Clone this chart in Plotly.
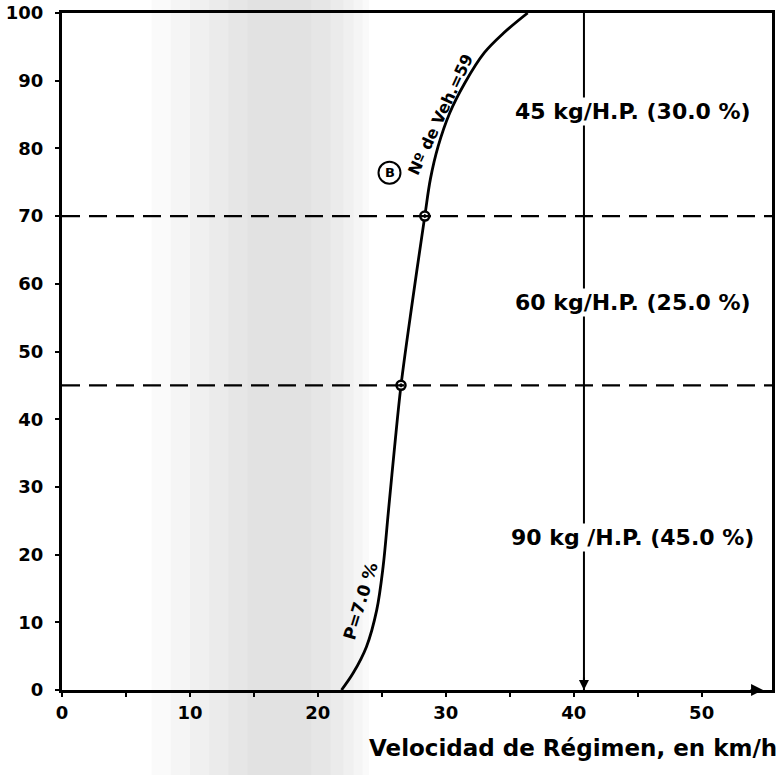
import plotly.graph_objects as go

# ---- data ----
curve_x = [21.85, 22.76, 23.8, 24.6, 25.1, 25.5, 26.0, 26.5, 27.4, 28.36, 28.8, 29.4, 30.3, 31.5, 33.0, 34.5, 36.4]
curve_y = [0, 2.5, 6.4, 11.8, 18.2, 26.1, 35.9, 45, 57.5, 70, 75.5, 80.3, 85.2, 89.7, 94.1, 97, 100]
point_x = [26.5, 28.36]
point_y = [45, 70]
split_levels = [45, 70]
v_line_x = 40.8
x_ticks = [0, 10, 20, 30, 40, 50]
y_ticks = [0, 10, 20, 30, 40, 50, 60, 70, 80, 90, 100]
class_labels = ["45 kg/H.P. (30.0 %)", "60 kg/H.P. (25.0 %)", "90 kg /H.P. (45.0 %)"]
class_label_y = [85.4, 57.3, 22.6]
class_label_x = 44.6

FONT = "DejaVu Sans"
fig = go.Figure()

fig.add_trace(go.Scatter(x=curve_x, y=curve_y, mode="lines",
                         line=dict(color="black", width=2.8, shape="spline", smoothing=1.0),
                         hoverinfo="skip", showlegend=False))
fig.add_trace(go.Scatter(x=point_x, y=point_y, mode="markers",
                         marker=dict(symbol="circle-dot", size=9, color="white",
                                     line=dict(color="black", width=2.5)),
                         showlegend=False))

shapes = []
# stippled background band (soft gray layers for a gradual texture)
for x0, x1, a in [(7.0, 24.0, 0.02), (8.5, 23.5, 0.02), (10.0, 22.8, 0.02),
                  (11.5, 22.0, 0.02), (13.0, 21.0, 0.02), (14.5, 19.5, 0.015)]:
    shapes.append(dict(type="rect", xref="x", yref="paper", x0=x0, x1=x1, y0=-0.16, y1=1.02,
                       fillcolor="rgba(0,0,0,%g)" % a, line=dict(width=0), layer="below"))
for lv in split_levels:
    shapes.append(dict(type="line", xref="paper", yref="y", x0=0, x1=1, y0=lv, y1=lv,
                       line=dict(color="black", width=2.2, dash="18px,9px")))
shapes.append(dict(type="line", xref="x", yref="y", x0=v_line_x, x1=v_line_x, y0=0, y1=100,
                   line=dict(color="black", width=2)))
# circled B marker
shapes.append(dict(type="circle", xref="x", yref="y", xsizemode="pixel", ysizemode="pixel",
                   xanchor=25.6, yanchor=76.4, x0=-11, x1=11, y0=-11, y1=11,
                   line=dict(color="black", width=2)))

annotations = []
for t, yy in zip(class_labels, class_label_y):
    annotations.append(dict(x=class_label_x, y=yy, xref="x", yref="y", text="<b>%s</b>" % t,
                            showarrow=False, font=dict(family=FONT, size=22, color="black"),
                            bgcolor="white"))
annotations.append(dict(x=25.6, y=76.4, xref="x", yref="y", text="<b>B</b>", showarrow=False,
                        font=dict(family=FONT, size=13, color="black")))
annotations.append(dict(x=29.6, y=85.0, xref="x", yref="y", text="<b>Nº de Veh.=59</b>",
                        textangle=-65, showarrow=False,
                        font=dict(family=FONT, size=16, color="black")))
annotations.append(dict(x=23.35, y=13.1, xref="x", yref="y", text="<b>P=7.0 %</b>",
                        textangle=-73, showarrow=False,
                        font=dict(family=FONT, size=17, color="black")))
annotations.append(dict(x=1.01, y=-0.086, xref="paper", yref="paper", xanchor="right",
                        yanchor="middle",
                        text="<b>Velocidad de Régimen, en km/h</b>", showarrow=False,
                        font=dict(family=FONT, size=23, color="black")))
# small arrowheads: end of x axis and foot of the vertical line
annotations.append(dict(x=54.8, y=0, xref="x", yref="y", ax=-14, ay=0, text="",
                        showarrow=True, arrowhead=2, arrowsize=1.2, arrowwidth=2, arrowcolor="black"))
annotations.append(dict(x=v_line_x, y=0, xref="x", yref="y", ax=0, ay=-14, text="",
                        showarrow=True, arrowhead=2, arrowsize=1.0, arrowwidth=2, arrowcolor="black"))

fig.update_layout(
    width=784, height=775,
    margin=dict(l=62, r=12, t=13, b=85, autoexpand=False),
    paper_bgcolor="white", plot_bgcolor="white",
    shapes=shapes, annotations=annotations,
    font=dict(family=FONT, color="black"),
)
fig.update_xaxes(range=[0, 55.5], tickvals=x_ticks, ticktext=["<b>%d</b>" % v for v in x_ticks],
                 showgrid=False, zeroline=False, showline=True, linecolor="black", linewidth=3,
                 mirror=True, ticks="outside", ticklen=4, tickwidth=2, tickcolor="black",
                 minor=dict(tickvals=[5, 15, 25, 35, 45], ticks="outside", ticklen=4, tickwidth=1.5,
                            tickcolor="black"),
                 tickfont=dict(family=FONT, size=18, color="black"))
fig.update_yaxes(range=[0, 100], tickvals=y_ticks, ticktext=["<b>%d</b>" % v for v in y_ticks],
                 showgrid=False, zeroline=False, showline=True, linecolor="black", linewidth=3,
                 mirror=True, ticks="outside", ticklen=4, tickwidth=2, tickcolor="black",
                 ticklabelstandoff=8,
                 tickfont=dict(family=FONT, size=18, color="black"))

fig.write_html("out.html")
